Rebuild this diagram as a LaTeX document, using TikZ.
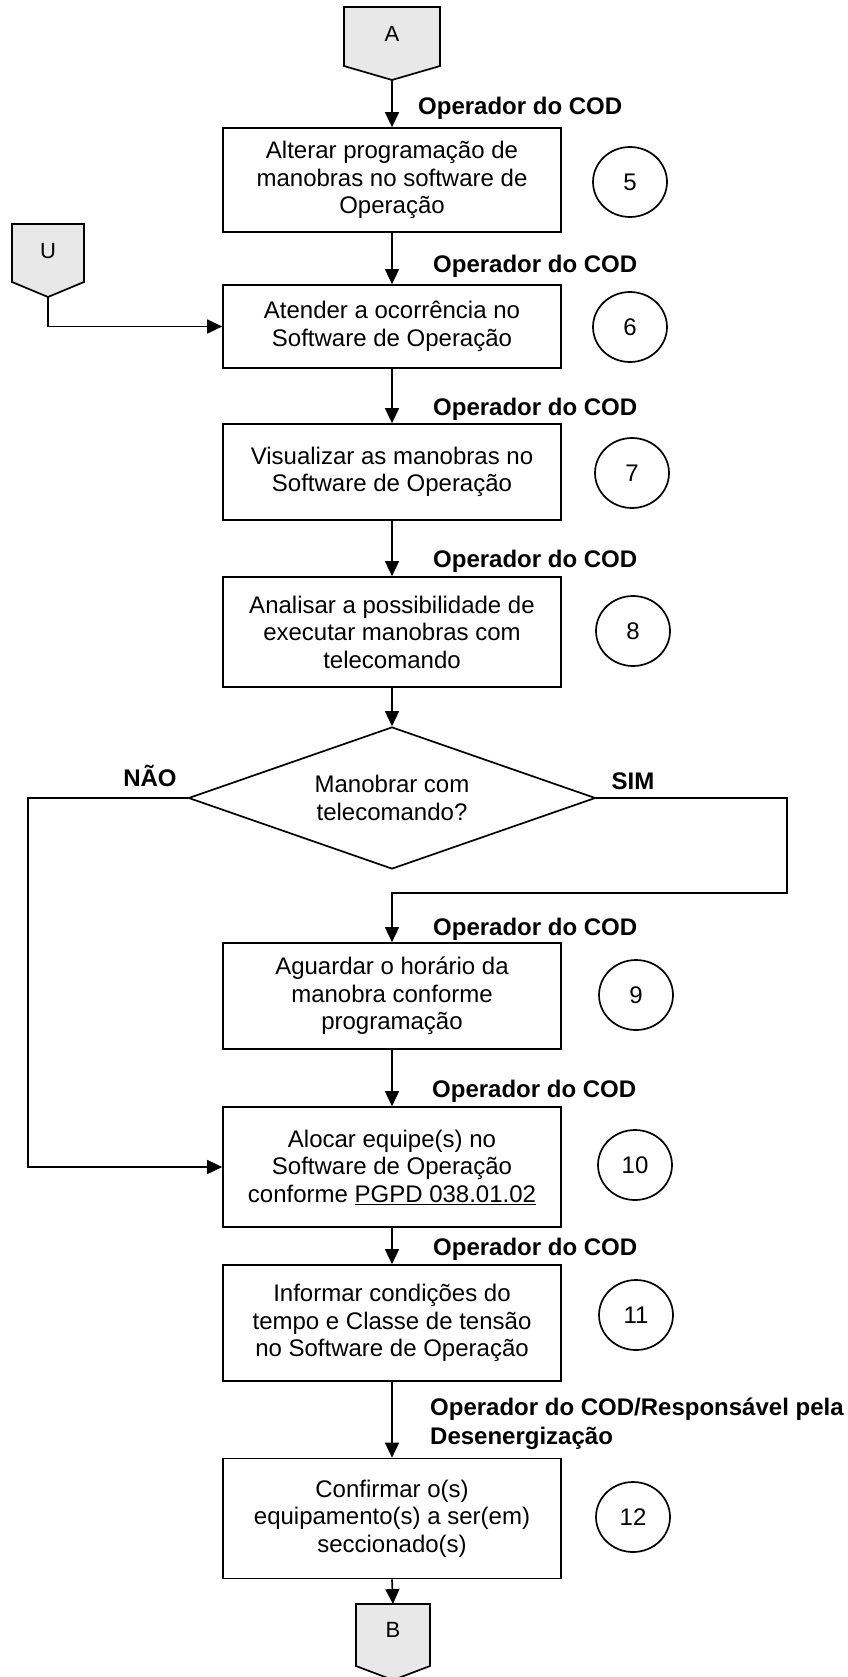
\documentclass[tikz,border=0pt]{standalone}
\usepackage{fontspec}
\setmainfont{Liberation Sans}
\usetikzlibrary{arrows.meta,shapes.geometric}
\definecolor{connfill}{HTML}{E8E8E8}
\tikzset{
  proc/.style={draw, line width=1.7pt, minimum width=338pt, inner sep=0pt, align=center,
    font=\fontsize{24}{27.5}\selectfont},
  num/.style={draw, ellipse, line width=1.7pt, minimum width=74pt, minimum height=70pt,
    inner sep=0pt, font=\fontsize{24}{27.5}\selectfont},
  role/.style={anchor=base west, inner sep=0pt, align=left,
    font=\bfseries\fontsize{24}{29}\selectfont},
  answer/.style={anchor=base, inner sep=0pt, font=\bfseries\fontsize{24}{29}\selectfont},
  conntext/.style={anchor=base, inner sep=0pt, font=\fontsize{22}{26}\selectfont},
  offpage/.style={draw, line width=1.7pt, fill=connfill, line join=miter},
  flow/.style={line width=1.7pt, -{Triangle[length=15pt,width=14pt]}},
  decision/.style={draw, diamond, line width=1.7pt, minimum width=407pt, minimum height=142pt,
    inner sep=0pt, aspect=2.87, align=center, font=\fontsize{24}{28}\selectfont}
}
\begin{document}
\begin{tikzpicture}[x=1pt,y=-1pt]
\useasboundingbox (0,0) rectangle (847,1677);

% off-page connectors
\draw[offpage] (344,7) -- (440,7) -- (440,66) -- (392,80) -- (344,66) -- cycle;
\node[conntext] (A) at (392,42) {A};
\coordinate (Atip) at (392,80);

\draw[offpage] (12,224) -- (84,224) -- (84,282) -- (48,297) -- (12,282) -- cycle;
\node[conntext] (U) at (48,259) {U};
\coordinate (Utip) at (48,297);

\draw[offpage] (356,1604) -- (430,1604) -- (430,1666) -- (393,1680) -- (356,1666) -- cycle;
\node[conntext] (B) at (393,1637) {B};
\coordinate (Btop) at (393,1604);

% process boxes
\node[proc, minimum height=104pt] (s5) at (392,180) {Alterar programação de\\manobras no software de\\Operação};
\node[proc, minimum height=83pt] (s6) at (392,326.5) {Atender a ocorrência no\\Software de Operação};
\node[proc, minimum height=96pt] (s7) at (392,472) {Visualizar as manobras no\\Software de Operação};
\node[proc, minimum height=110pt] (s8) at (392,632) {Analisar a possibilidade de\\executar manobras com\\telecomando};
\node[decision] (dec) at (392,798) {Manobrar com\\telecomando?};
\node[proc, minimum height=106pt] (s9) at (392,996) {Aguardar o horário da\\manobra conforme\\programação};
\node[proc, minimum height=120pt] (s10) at (392,1167) {Alocar equipe(s) no\\Software de Operação\\conforme \underline{PGPD 038.01.02}};
\node[proc, minimum height=116pt] (s11) at (392,1323) {Informar condições do\\tempo e Classe de tensão\\no Software de Operação};
\node[proc, minimum height=120pt] (s12) at (392,1518.5) {Confirmar o(s)\\equipamento(s) a ser(em)\\seccionado(s)};

% step numbers
\node[num] (n5) at (630,182) {5};
\node[num] (n6) at (630,327) {6};
\node[num] (n7) at (632,473) {7};
\node[num] (n8) at (633,631) {8};
\node[num] (n9) at (636,995) {9};
\node[num] (n10) at (635,1165) {10};
\node[num] (n11) at (636,1315) {11};
\node[num] (n12) at (633,1517) {12};

% role labels
\node[role] (r5) at (418,115) {Operador do COD};
\node[role] (r6) at (433,273) {Operador do COD};
\node[role] (r7) at (433,415) {Operador do COD};
\node[role] (r8) at (433,567) {Operador do COD};
\node[role] (r9) at (433,935) {Operador do COD};
\node[role] (r10) at (432,1097) {Operador do COD};
\node[role] (r11) at (433,1255) {Operador do COD};
\node[role] (r12) at (430,1444) {Operador do COD/Responsável pela\\Desenergização};

% answers
\node[answer] (nao) at (150,786) {NÃO};
\node[answer] (sim) at (633,789) {SIM};

% connectors
\draw[flow] (Atip) -- (s5.north);
\draw[flow] (s5.south) -- (s6.north);
\draw[flow] (Utip) |- (s6.west);
\draw[flow] (s6.south) -- (s7.north);
\draw[flow] (s7.south) -- (s8.north);
\draw[flow] (s8.south) -- (dec.north);
\coordinate (noturn) at (28,798);
\draw[flow] (dec.west) -- (noturn) |- (s10.west);
\coordinate (simturn) at (787,798);
\coordinate (simjoin) at (392,893);
\draw[flow] (dec.east) -- (simturn) |- (simjoin) -- (s9.north);
\draw[flow] (s9.south) -- (s10.north);
\draw[flow] (s10.south) -- (s11.north);
\draw[flow] (s11.south) -- (s12.north);
\draw[flow] (s12.south) -- (Btop);
\end{tikzpicture}
\end{document}
